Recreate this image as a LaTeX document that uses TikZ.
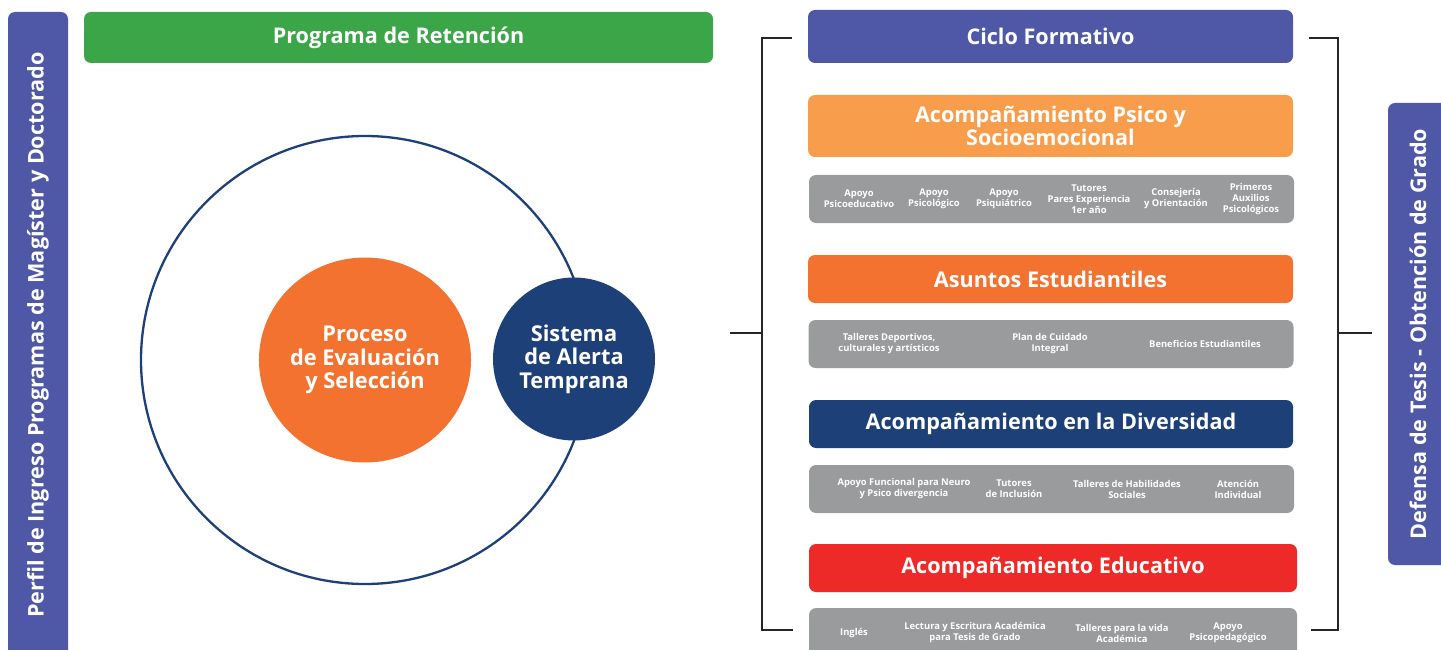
\documentclass[tikz,border=0pt]{standalone}
\usepackage{fontspec}
\setmainfont{Open Sans}
\definecolor{barblue}{HTML}{4F58A6}
\definecolor{retgreen}{HTML}{3AA648}
\definecolor{softorange}{HTML}{F79D4B}
\definecolor{mainorange}{HTML}{F37230}
\definecolor{navy}{HTML}{1D4079}
\definecolor{alertred}{HTML}{EE2A29}
\definecolor{itemgray}{HTML}{9A9B9D}
\tikzset{
  header/.style={fill=#1, rounded corners=7pt, text=white, font=\bfseries\fontsize{21.6}{23.5}\selectfont, align=center, inner sep=0pt},
  itembox/.style={fill=itemgray, rounded corners=7pt},
  item/.style={text=white, font=\bfseries\fontsize{9.4}{11}\selectfont, align=center, inner sep=0pt},
  bubble/.style={ellipse, fill=#1, text=white, font=\bfseries\fontsize{21.8}{23.6}\selectfont, align=center, inner sep=0pt},
  bracket/.style={draw=black!85, line width=1.2pt}
}
\usetikzlibrary{shapes.geometric}
\begin{document}
\begin{tikzpicture}[x=1pt,y=-1pt]
    \clip (0,0) rectangle (1441,650);
    % side bars
    \fill[barblue, rounded corners=7pt] (8,12) rectangle (68,680);
    \node[rotate=90, text=white, font=\bfseries\fontsize{21.6}{23}\selectfont] (perfil) at (38,335) {Perfil de Ingreso Programas de Magíster y Doctorado};
    \fill[barblue, rounded corners=7pt] (1388,103) rectangle (1460,565);
    \node[rotate=90, text=white, font=\bfseries\fontsize{21.6}{23}\selectfont] (defensa) at (1418,334) {Defensa de Tesis - Obtención de Grado};
    % left part
    \node[header=retgreen, minimum width=629pt, minimum height=51pt] (retencion) at (398.5,37.5) {Programa de Retención};
    \draw[navy, line width=2.3pt] (365,360) circle [radius=224];
    \node[bubble=mainorange, minimum width=204pt, minimum height=205pt] (proceso) at (365,360) {Proceso\\de Evaluación\\y Selección};
    \node[bubble=navy, minimum width=162pt, minimum height=163pt] (alerta) at (574,359) {Sistema\\de Alerta\\Temprana};
    % right part
    \node[header=barblue, minimum width=485pt, minimum height=53pt] (ciclo) at (1050.5,36.5) {Ciclo Formativo};
    \node[header=softorange, minimum width=485pt, minimum height=62pt] (psico) at (1050.5,126) {Acompañamiento Psico y\\Socioemocional};
    \node[itembox, minimum width=485pt, minimum height=48pt] (psicoItems) at (1051.5,199) {};
    \node[item] at (859,199) {Apoyo\\Psicoeducativo};
    \node[item] at (934,199) {Apoyo\\Psicológico};
    \node[item] at (1004,199) {Apoyo\\Psiquiátrico};
    \node[item] at (1089,199) {Tutores\\Pares Experiencia\\1er año};
    \node[item] at (1176,199) {Consejería\\y Orientación};
    \node[item] at (1251,199) {Primeros\\Auxilios\\Psicológicos};
    \node[header=mainorange, minimum width=485pt, minimum height=48pt] (asuntos) at (1050.5,279) {Asuntos Estudiantiles};
    \node[itembox, minimum width=485pt, minimum height=48pt] (asuntosItems) at (1051,344) {};
    \node[item] at (889,344) {Talleres Deportivos,\\culturales y artísticos};
    \node[item] at (1050,344) {Plan de Cuidado\\Integral};
    \node[item] at (1205,344) {Beneficios Estudiantiles};
    \node[header=navy, minimum width=484pt, minimum height=48pt] (diversidad) at (1051,424) {Acompañamiento en la Diversidad};
    \node[itembox, minimum width=485pt, minimum height=48pt] (diversidadItems) at (1051.5,489) {};
    \node[item] at (904,489) {Apoyo Funcional para Neuro\\y Psico divergencia};
    \node[item] at (1014,489) {Tutores\\de Inclusión};
    \node[item] at (1127,489) {Talleres de Habilidades\\Sociales};
    \node[item] at (1238,489) {Atención\\Individual};
    \node[header=alertred, minimum width=488pt, minimum height=48pt] (educativo) at (1053,568) {Acompañamiento Educativo};
    \node[itembox, minimum width=488pt, minimum height=60pt] (educativoItems) at (1053,638) {};
    \node[item] at (854,633) {Inglés};
    \node[item] at (975,633) {Lectura y Escritura Académica\\para Tesis de Grado};
    \node[item] at (1122,633) {Talleres para la vida\\Académica};
    \node[item] at (1228,633) {Apoyo\\Psicopedagógico};
    % brackets
    \coordinate (lIn) at (730,333);
    \coordinate (rOut) at (1372,333);
    \draw[bracket] (792,38) -- (762,38) -- (762,630) -- (793,630);
    \draw[bracket] (lIn) -- (762,333);
    \draw[bracket] (1309,38) -- (1338,38) -- (1338,630) -- (1311,630);
    \draw[bracket] (1338,333) -- (rOut);
\end{tikzpicture}
\end{document}
